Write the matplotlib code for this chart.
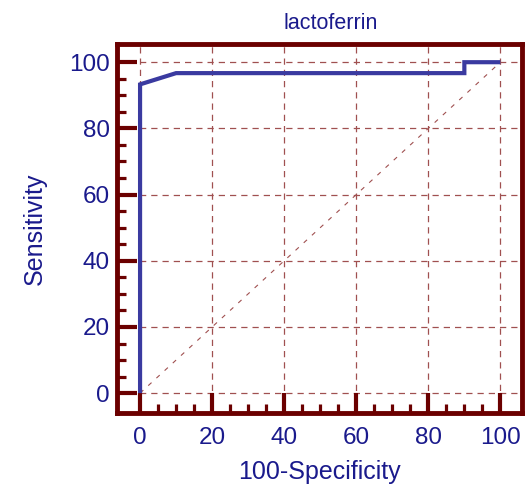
import matplotlib
matplotlib.use("Agg")
import matplotlib.pyplot as plt
from matplotlib.ticker import FixedLocator

plt.rcParams['font.family'] = ['Liberation Sans', 'DejaVu Sans']

title = "lactoferrin"
fpr = [0, 0, 10, 90, 90, 100]
tpr = [0, 93.3, 96.7, 96.7, 100, 100]
xticks = [0, 20, 40, 60, 80, 100]
yticks = [0, 20, 40, 60, 80, 100]
minor_ticks = [v for v in range(5, 100, 5) if v % 20 != 0]

maroon = '#6b0000'
navy = '#1a1a8c'
blue = '#3a3aa0'
gridc = '#a05050'

fig = plt.figure(figsize=(5.26, 4.9), dpi=100)
ax = fig.add_axes([117/526, 1-413/490, (522-117)/526, (413-44)/490])

ax.set_xlim(-6.4, 106)
ax.set_ylim(-6, 105.5)

for v in xticks:
    ax.axvline(v, color=gridc, lw=0.9, ls=(0, (5, 4)), zorder=1)
for v in yticks:
    ax.axhline(v, color=gridc, lw=0.9, ls=(0, (5, 4)), zorder=1)
ax.plot([0, 100], [0, 100], color=gridc, lw=0.8, ls=(0, (4, 6)), zorder=1)

ax.plot(fpr, tpr, color=blue, lw=3.0, zorder=3, solid_joinstyle='miter',
        solid_capstyle='butt')

ax.set_xticks(xticks)
ax.set_yticks(yticks)
ax.xaxis.set_minor_locator(FixedLocator(minor_ticks))
ax.yaxis.set_minor_locator(FixedLocator(minor_ticks))
ax.tick_params(which='major', direction='in', length=14.5, width=3, color=maroon,
               labelsize=17.5, labelcolor=navy)
ax.tick_params(axis='x', which='major', pad=10)
ax.tick_params(axis='y', which='major', pad=5)
ax.tick_params(which='minor', direction='in', length=6.5, width=2.3, color=maroon)
ax.tick_params(axis='x', which='both', top=False)
ax.tick_params(axis='y', which='both', right=False)

for s in ax.spines.values():
    s.set_color(maroon)
    s.set_linewidth(3.5)

ax.set_title(title, color=navy, fontsize=15.5, pad=11, x=0.527)
ax.set_xlabel("100-Specificity", color=navy, fontsize=18, labelpad=8)
ax.set_ylabel("Sensitivity", color=navy, fontsize=18, labelpad=16)

fig.savefig("out.png", dpi=100)
